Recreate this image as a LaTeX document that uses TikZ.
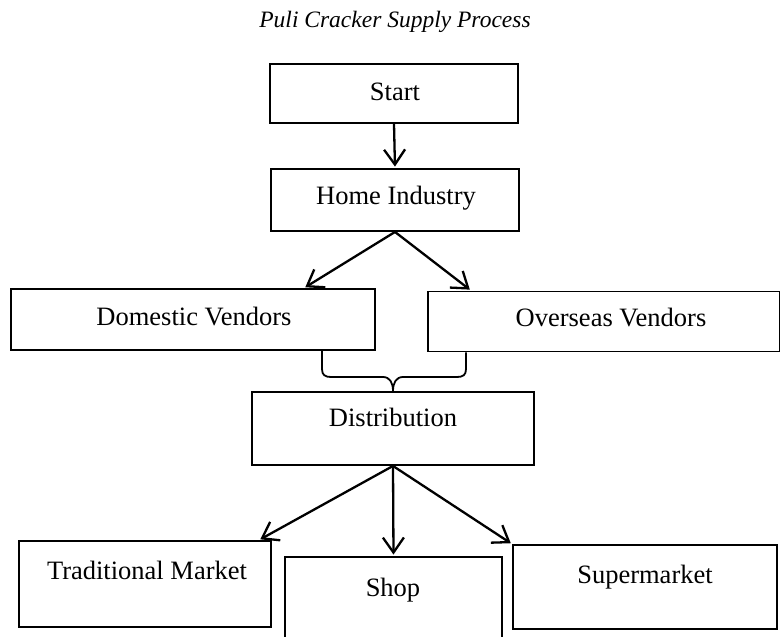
\documentclass[tikz,border=0pt]{standalone}
\usepackage{fontspec}
\setmainfont{Liberation Serif}
\usetikzlibrary{arrows.meta}
\begin{document}
\begin{tikzpicture}[x=1pt,y=-1pt,
  box/.style={draw, line width=1.9pt, rectangle, inner sep=0pt},
  lbl/.style={inner sep=0pt, anchor=base, font=\fontsize{26.5}{30}\selectfont},
  arr/.style={line width=2.3pt, shorten >=1.5pt, -{Straight Barb[length=15pt,width=21pt]}},
  bracestyle/.style={line width=1.8pt}]
\useasboundingbox (0,0) rectangle (780,637);
\clip (0,0) rectangle (780,637);
% title
\node[inner sep=0pt, anchor=base, font=\itshape\fontsize{23.5}{28}\selectfont] (title) at (395,27.5) {Puli Cracker Supply Process};
% boxes
\node[box, minimum width=248pt, minimum height=59pt] (start) at (394,93.5) {};
\node[box, minimum width=248pt, minimum height=62pt] (home) at (395,200) {};
\node[box, minimum width=364pt, minimum height=61pt] (dom) at (193,319.5) {};
\node[box, minimum width=352pt, minimum height=60pt] (over) at (604,321.5) {};
\node[box, minimum width=282pt, minimum height=73pt] (dist) at (393,428.5) {};
\node[box, minimum width=252pt, minimum height=86pt] (trad) at (145,584) {};
\node[box, minimum width=217pt, minimum height=106pt] (shop) at (393.5,610) {};
\node[box, minimum width=264pt, minimum height=84pt] (super) at (645,587) {};
% texts
\node[lbl] (startt) at (395,100) {Start};
\node[lbl] (homet) at (396,204) {Home Industry};
\node[lbl] (domt) at (194,325) {Domestic Vendors};
\node[lbl] (overt) at (611,326) {Overseas Vendors};
\node[lbl] (distt) at (393,426) {Distribution};
\node[lbl] (tradt) at (147,579.5) {Traditional Market};
\node[lbl] (shopt) at (393,596) {Shop};
\node[lbl] (supert) at (645,583) {Supermarket};
% arrows
\draw[arr] (start.south) -- (home.north);
\draw[arr] (home.south) -- ([xshift=111pt]dom.north);
\draw[arr] (home.south) -- ([xshift=-133pt]over.north);
\draw[arr] (dist.south) -- ([xshift=114pt]trad.north);
\draw[arr] (dist.south) -- (shop.north);
\draw[arr] (dist.south) -- (super.north west);
% brace
\coordinate (bl) at ([xshift=129pt]dom.south);
\coordinate (br) at ([xshift=-138pt]over.south);
\draw[bracestyle] (bl) -- (322,369) .. controls (322,375) and (325,377) .. (331,377) -- (383,377)
  .. controls (390,377) and (393,383) .. (dist.north)
  .. controls (393,383) and (396,377) .. (403,377) -- (457,377)
  .. controls (463,377) and (466,375) .. (466,369) -- (br);
\end{tikzpicture}
\end{document}
